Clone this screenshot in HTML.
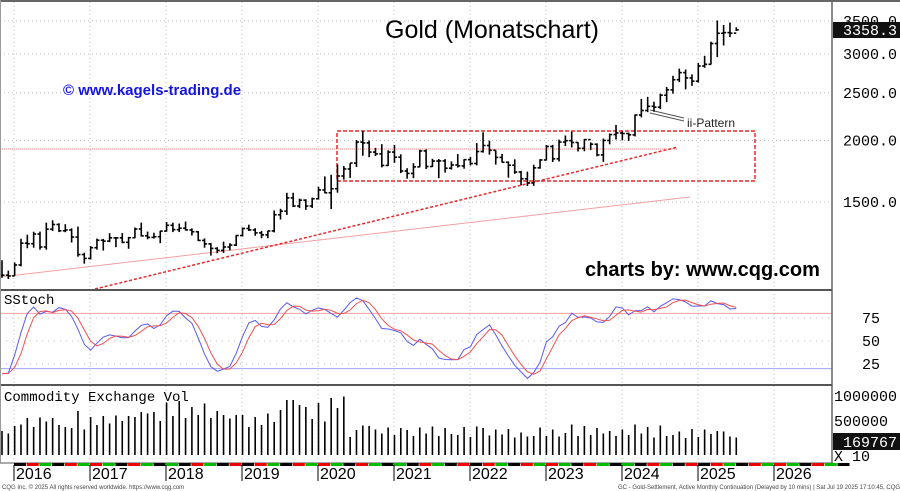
<!DOCTYPE html>
<html><head><meta charset="utf-8"><style>
html,body{margin:0;padding:0;background:#fff;width:900px;height:491px;overflow:hidden}
svg{display:block;font-family:"Liberation Sans",sans-serif}
.ax{font-family:"Liberation Mono",monospace;font-size:15px}
</style></head><body>
<svg id="c" width="900" height="491" xmlns="http://www.w3.org/2000/svg">
<rect x="0" y="0" width="900" height="491" fill="#fff"/>
<g id="grid"></g>
<g id="annot">
<line x1="0" y1="149" x2="678" y2="149" stroke="#f08080" stroke-width="1" stroke-dasharray="1,1"/>
<line x1="0" y1="277" x2="690" y2="197" stroke="#f4a0a0" stroke-width="1"/>
<line x1="95" y1="289" x2="678" y2="147" stroke="#e8282a" stroke-width="1.5" stroke-dasharray="3,2"/>
<rect x="337" y="131" width="418" height="50" fill="none" stroke="#e8282a" stroke-width="1.5" stroke-dasharray="4,2"/>
<line x1="650" y1="110" x2="684" y2="118" stroke="#555"/>
<line x1="650" y1="113" x2="684" y2="121" stroke="#555"/>
<text x="687" y="127" font-size="12" fill="#222">ii-Pattern</text>
</g>
<g id="bars"></g>
<text x="385" y="38" font-size="25" fill="#000">Gold (Monatschart)</text>
<text x="63" y="95" font-size="15" font-weight="bold" fill="#1515e0">© www.kagels-trading.de</text>
<text x="585" y="276" font-size="20" font-weight="bold" fill="#000">charts by: www.cqg.com</text>
<g id="stoch"></g>
<g id="vol"></g>
<g id="axes"></g>
</svg>
<script>
const closes=[1065,1061,
1117,1237,1234,1291,1215,1321,1350,1311,1316,1273,1173,1152,
1211,1254,1249,1268,1268,1242,1269,1322,1280,1271,1275,1309,
1345,1318,1327,1316,1305,1253,1233,1207,1196,1215,1226,1282,
1325,1316,1298,1286,1310,1413,1437,1529,1472,1513,1472,1523,
1587,1566,1596,1694,1751,1800,1986,1978,1895,1879,1780,1895,
1850,1734,1715,1768,1905,1771,1817,1818,1757,1784,1776,1829,
1796,1900,1954,1911,1848,1807,1782,1726,1672,1640,1760,1826,
1945,1836,1986,1999,1982,1929,2009,1966,1870,2001,2057,2072,
2067,2054,2254,2302,2348,2339,2473,2536,2659,2749,2681,2641,
2835,2858,3150,3305,3315,3307,3358.3];
const highs=[1142,1088,
1130,1263,1287,1305,1306,1362,1377,1358,1352,1326,1337,1183,
1220,1264,1262,1296,1272,1297,1274,1331,1362,1306,1299,1311,
1366,1362,1356,1369,1326,1309,1265,1237,1214,1246,1237,1286,
1331,1349,1327,1310,1311,1442,1453,1566,1566,1524,1519,1531,
1611,1691,1704,1788,1775,1799,2005,2089,2000,1933,1966,1911,
1959,1875,1757,1799,1916,1919,1836,1834,1834,1814,1877,1833,
1853,1976,2079,1999,1910,1879,1814,1832,1735,1729,1786,1833,
1959,1960,2009,2048,2085,1985,2015,1983,1973,2019,2067,2152,
2088,2075,2260,2431,2454,2399,2491,2570,2708,2801,2790,2726,
2875,2974,3177,3509,3436,3476,3400];
const lows=[1052,1046,
1062,1110,1208,1211,1200,1200,1310,1303,1302,1241,1161,1124,
1146,1200,1195,1243,1214,1237,1205,1266,1276,1260,1264,1237,
1306,1303,1303,1313,1282,1250,1211,1167,1180,1182,1196,1221,
1276,1310,1281,1266,1266,1301,1382,1412,1465,1458,1446,1459,
1517,1563,1451,1567,1666,1679,1767,1863,1850,1860,1764,1775,
1802,1717,1673,1677,1765,1750,1767,1677,1721,1746,1762,1753,
1780,1781,1890,1872,1787,1805,1681,1711,1622,1617,1618,1753,
1822,1809,1813,1949,1936,1900,1902,1913,1858,1810,1965,2010,
2002,1996,2039,2230,2285,2289,2317,2394,2491,2629,2541,2583,
2625,2812,2855,2957,3121,3247,3340];
const volumes=[300,250,
400,430,560,380,570,490,560,420,380,360,700,330,
580,420,600,450,610,500,600,580,680,650,680,500,
870,600,900,560,780,620,850,560,700,620,550,620,
620,380,580,420,650,480,720,920,920,820,780,540,
860,490,960,760,990,180,320,410,400,330,250,370,
220,360,320,200,370,250,390,200,360,240,220,380,
180,390,360,210,330,230,340,170,270,190,200,370,
200,330,190,260,430,200,400,220,360,250,300,200,
330,220,430,250,380,170,410,200,220,290,160,340,
180,330,240,300,290,190,170];
const years=["2016","2017","2018","2019","2020","2021","2022","2023","2024","2025","2026"];
const priceTicks=[1500,2000,2500,3000,3500];
const stochTicks=[25,50,75];
const volTicks=[500000,1000000];

const NS="http://www.w3.org/2000/svg";
function mk(p,t,a){const e=document.createElementNS(NS,t);for(const k in a)e.setAttribute(k,a[k]);p.appendChild(e);return e;}
const xOf=i=>2+i*6.33;
const yP=p=>202-(Math.log(p)-Math.log(1500))*213.6;
const yS=v=>387-v*0.92;
const yV=v=>446-(v/500000)*25;
const yearX=k=>14+(k)*76;

const grid=document.getElementById('grid');
years.forEach((y,k)=>{const l=mk(grid,'line',{x1:yearX(k),x2:yearX(k),y1:2,y2:462,stroke:'#bbb','stroke-dasharray':'1,3'});

});
priceTicks.forEach(p=>{const l=mk(grid,'line',{x1:0,x2:832,y1:yP(p),y2:yP(p),stroke:'#bbb','stroke-dasharray':'1,3'});

});

const bars=document.getElementById('bars');
closes.forEach((c,i)=>{const o=i?closes[i-1]:c;const x=xOf(i);
const g=mk(bars,'g',{stroke:'#000','stroke-width':1.6});


mk(g,'line',{x1:x,x2:x,y1:yP(highs[i]),y2:yP(lows[i])});
mk(g,'line',{x1:x-2.5,x2:x,y1:yP(o),y2:yP(o)});
mk(g,'line',{x1:x,x2:x+2.5,y1:yP(c),y2:yP(c)});});

const rawK=closes.map((c,i)=>{const s=Math.max(0,i-13);let hh=-1e9,ll=1e9;for(let j=s;j<=i;j++){hh=Math.max(hh,highs[j]);ll=Math.min(ll,lows[j]);}return hh>ll?(c-ll)/(hh-ll)*100:50;});
const sma=(a,n)=>a.map((v,i)=>{const s=Math.max(0,i-n+1);let t=0;for(let j=s;j<=i;j++)t+=a[j];return t/(i-s+1);});
const slowK=sma(rawK,3), slowD=sma(slowK,3);
const st=document.getElementById('stoch');
[[80,'#f4a0a0'],[20,'#a0a0f8']].forEach(([v,col])=>{const l=mk(st,'line',{x1:0,x2:832,y1:yS(v),y2:yS(v),stroke:col});

});
stochTicks.forEach(v=>{const l=mk(st,'line',{x1:0,x2:832,y1:yS(v),y2:yS(v),stroke:'#bbb','stroke-dasharray':'1,5'});

});
const pK=mk(st,'polyline',{points:slowK.map((v,i)=>xOf(i)+','+yS(v)).join(' '),fill:'none',stroke:'#5a5af0','stroke-width':1});


const pD=mk(st,'polyline',{points:slowD.map((v,i)=>xOf(i)+','+yS(v)).join(' '),fill:'none',stroke:'#f05050','stroke-width':1});


const stl=mk(st,'text',{x:4,y:304,'font-size':14,'font-family':'Liberation Mono,monospace'});stl.textContent='SStoch';



const vol=document.getElementById('vol');
volumes.forEach((v,i)=>{const x=xOf(i);const l=mk(vol,'line',{x1:x,x2:x,y1:455,y2:yV(v*1000),stroke:'#000','stroke-width':1.6});

});
const vtl=mk(vol,'text',{x:4,y:401,'font-size':14,'font-family':'Liberation Mono,monospace'});vtl.textContent='Commodity Exchange Vol';



const ax=document.getElementById('axes');
function ln(a,name){const l=mk(ax,'line',a);return l;}
ln({x1:0,x2:900,y1:1,y2:1,stroke:'#666','stroke-width':2},'top-border');
ln({x1:832,x2:832,y1:0,y2:463,stroke:'#666','stroke-width':1.5},'right-border');
ln({x1:0,x2:832,y1:290,y2:290,stroke:'#555','stroke-width':2},'panel-divider-1');
ln({x1:0,x2:832,y1:385,y2:385,stroke:'#555','stroke-width':2},'panel-divider-2');
ln({x1:0,x2:832,y1:463,y2:463,stroke:'#555','stroke-width':1},'date-axis-line');
ln({x1:0.5,x2:0.5,y1:0,y2:463,stroke:'#999'},'left-border');
priceTicks.forEach(p=>{const t=mk(ax,'text',{x:843,y:yP(p)+5,class:'ax',style:'fill:#000'});t.textContent=p.toFixed(1);

});
stochTicks.forEach(v=>{const t=mk(ax,'text',{x:862,y:yS(v)+5,class:'ax',style:'fill:#000'});t.textContent=String(v);

});
volTicks.forEach(v=>{const t=mk(ax,'text',{x:834,y:yV(v)+5,class:'ax',style:'fill:#000'});t.textContent=String(v);

});
const pb=mk(ax,'rect',{x:833,y:22,width:67,height:16,fill:'#111'});


const pt=mk(ax,'text',{x:843,y:35,class:'ax',style:'fill:#fff'});pt.textContent=closes[closes.length-1].toFixed(1);


const vb=mk(ax,'rect',{x:833,y:433,width:67,height:17,fill:'#111'});


const vt=mk(ax,'text',{x:843,y:447,class:'ax',style:'fill:#fff'});vt.textContent='169767';


const xt=mk(ax,'text',{x:834,y:461,class:'ax',style:'fill:#000'});xt.textContent='X 10';


const cols=['#000','#e00','#0b0'];
years.forEach((y,k)=>{const x0=yearX(k);
for(let s=0;s<6;s++){const l=mk(ax,'line',{x1:x0+s*12.7,x2:x0+s*12.7+12,y1:464.5,y2:464.5,stroke:cols[(s+k)%3],'stroke-width':3});

}
ln({x1:x0,x2:x0,y1:465,y2:481,stroke:'#000'},'year-tick');
const t=mk(ax,'text',{x:x0+2,y:479,'font-size':16,fill:'#000'});t.textContent=y;

});
const f1=mk(ax,'text',{x:2,y:489,'font-size':6,fill:'#444'});f1.textContent='CQG Inc. © 2025 All rights reserved worldwide. https://www.cqg.com';


const f2=mk(ax,'text',{x:618,y:489,'font-size':6,fill:'#444'});f2.textContent='GC - Gold-Settlement, Active Monthly Continuation (Delayed by 10 mins) | Sat Jul 19 2025 17:10:45, CQG 25.12.8015';


</script>
</body></html>
